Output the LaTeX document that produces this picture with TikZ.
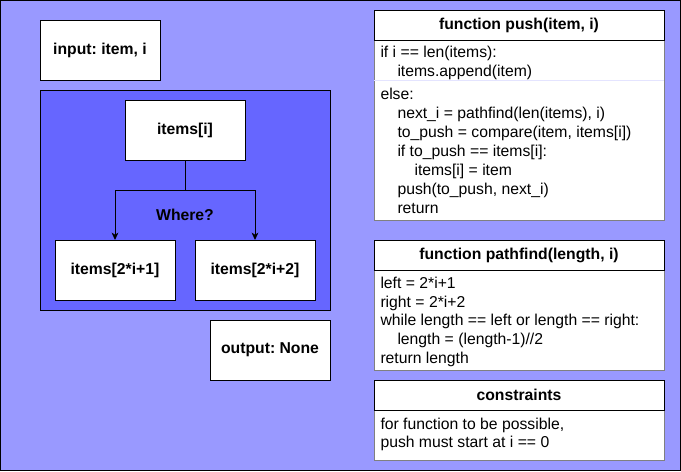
\documentclass[tikz,border=0pt]{standalone}
\usepackage{fontspec}
\setmainfont{Liberation Sans}
\usetikzlibrary{arrows.meta,positioning}
\definecolor{outerbg}{HTML}{9999FF}
\definecolor{innerbg}{HTML}{6666FF}
\definecolor{bodyline}{HTML}{808080}
\definecolor{splitline}{HTML}{E4E4FF}
\tikzset{
  box/.style={draw, fill=white, line width=0.75pt, outer sep=0pt, inner sep=0pt,
    minimum width=90pt, minimum height=45pt, font=\bfseries\fontsize{11.8}{14}\selectfont},
  header/.style={draw, fill=white, line width=0.75pt, outer sep=0pt, inner sep=0pt,
    minimum width=217.5pt, minimum height=22.5pt, font=\bfseries\fontsize{11.8}{14}\selectfont},
  body/.style={draw=bodyline, fill=white, line width=0.75pt, outer sep=0pt, inner sep=0pt,
    minimum width=217.5pt, anchor=north},
  code/.style={anchor=base west, align=left, inner sep=0pt, font=\fontsize{11.8}{14.25}\selectfont},
}
\newcommand{\ind}{\hspace*{12.75pt}}
\frenchspacing
\begin{document}
\begin{tikzpicture}[x=0.75pt, y=-0.75pt, line width=0.75pt]
\useasboundingbox (0,0) rectangle (681,471);
\draw[fill=outerbg] (0.5,0.5) rectangle (680.5,470.5);
\draw[fill=innerbg] (40,90) rectangle (330,310);

% left side
\node (input) [box] at (100,50) {input: item, i};
\node (top) [box] at (185,130) {items[i]};
\node (left) [box] at (115,270) {items[2*i+1]};
\node (right) [box] at (255,270) {items[2*i+2]};
\node (output) [box] at (270,350) {output: None};
\node (where) [font=\bfseries\fontsize{11.8}{14}\selectfont] at (185,215) {Where?};
\coordinate (fork) at (185,190);

\draw (top) -- (fork);
\draw[-{Stealth[length=5.5pt,width=5pt,inset=1.5pt]}] (fork) -| (left);
\draw[-{Stealth[length=5.5pt,width=5pt,inset=1.5pt]}] (fork) -| (right);

% function push
\node (pushbody) [body, minimum height=135pt] at (519,40) {};
\node (pushhead) [header] at (519,25) {function push(item, i)};
\coordinate (splitA) at (374,80);
\coordinate (splitB) at (664,80);
\draw[splitline] (splitA) -- (splitB);
\node (pushif) [code] at (380,76) {if i == len(items):\\
\ind items.append(item)};
\node (pushelse) [code] at (380,213) {else:\\
\ind next\_i = pathfind(len(items), i)\\
\ind to\_push = compare(item, items[i])\\
\ind if to\_push == items[i]:\\
\ind\ind items[i] = item\\
\ind push(to\_push, next\_i)\\
\ind return};

% function pathfind
\node (pathbody) [body, minimum height=75pt] at (519,270) {};
\node (pathhead) [header] at (519,255) {function pathfind(length, i)};
\node (pathcode) [code, font=\fontsize{11.8}{13.9}\selectfont] at (380,363) {left = 2*i+1\\
right = 2*i+2\\
while length == left or length == right:\\
\ind length = (length-1)//2\\
return length};

% constraints
\node (conbody) [body, minimum height=37.5pt] at (519,410) {};
\node (conhead) [header] at (519,395) {constraints};
\node (concode) [code, font=\fontsize{11.8}{13.5}\selectfont] at (380,447) {for function to be possible,\\
push must start at i == 0};
\end{tikzpicture}
\end{document}
